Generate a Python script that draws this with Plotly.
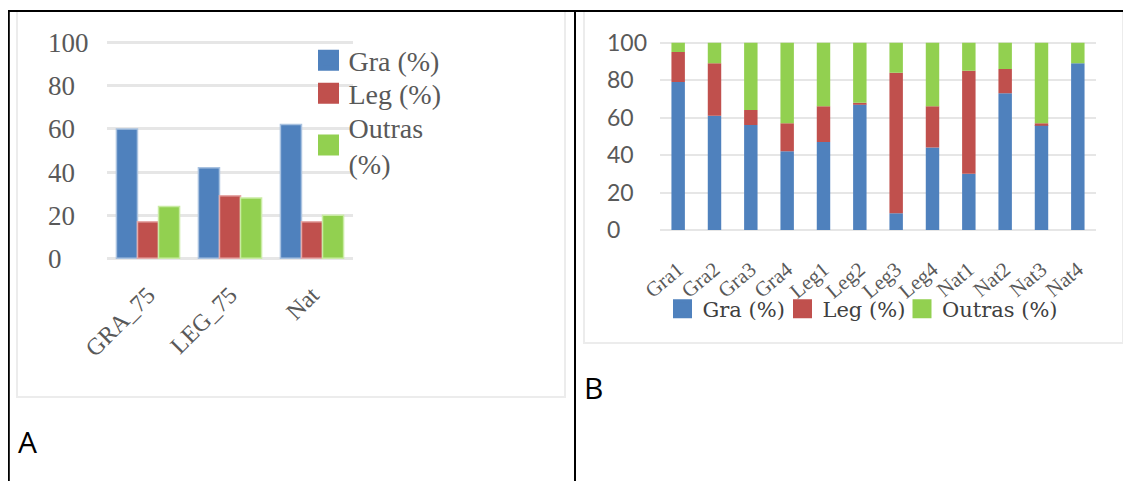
import plotly.graph_objects as go
import numpy as np

# page has an 8px body margin: the figure is drawn from (8, 8)
OX, OY = 8, 8
FW, FH = 1123, 473

# ---------------- data ----------------
cats_a = ["GRA_75", "LEG_75", "Nat"]
gra_a = [60, 42, 62]
leg_a = [17, 29, 17]
out_a = [24, 28, 20]

cats_b = ["Gra1", "Gra2", "Gra3", "Gra4", "Leg1", "Leg2", "Leg3", "Leg4",
          "Nat1", "Nat2", "Nat3", "Nat4"]
gra_b = [79, 61, 56, 42, 47, 67, 9, 44, 30, 73, 56, 89]
leg_b = [16, 28, 8, 15, 19, 1, 75, 22, 55, 13, 1, 0]
out_b = [5, 11, 36, 43, 34, 32, 16, 34, 15, 14, 43, 11]

series_names = ["Gra (%)", "Leg (%)", "Outras (%)"]
legend_a_names = ["Gra (%)", "Leg (%)", "Outras<br>(%)"]
yticks = [0, 20, 40, 60, 80, 100]

colors = ["#4F81BD", "#C0504D", "#92D050"]
edge_a = ["#a9c2e0", "#e6aaa9", "#c9eba3"]

SERIF = "Liberation Serif"
SANS = "Lato"
GREY = "#595959"


def px(x):
    return (x - OX) / FW


def py(y):
    return 1 - (y - OY) / FH


fig = go.Figure()

# legend ids / placements (screen px of symbol centre)
legA = ["legend", "legend2", "legend3"]
legA_pos = [(328.5, 60.5), (328.5, 93.5), (328.5, 145)]
legB = ["legend4", "legend5", "legend6"]
legB_pos = [(682.5, 309), (802.5, 309), (922, 309)]

# ---------------- panel A (grouped) ----------------
for vals, name, c, e in zip([gra_a, leg_a, out_a], series_names, colors, edge_a):
    fig.add_trace(go.Bar(x=cats_a, y=vals, name=name, marker=dict(color=c, line=dict(color=e, width=1.5)),
                         xaxis="x", yaxis="y", showlegend=False))
for name, c, lg in zip(legend_a_names, colors, legA):
    fig.add_trace(go.Scatter(x=[cats_a[0]], y=[None], mode="markers", name=name,
                             marker=dict(symbol="square", size=16, color=c, line=dict(color=c, width=5)),
                             xaxis="x", yaxis="y", legend=lg))

# ---------------- panel B (stacked) ----------------
gb = np.array(gra_b)
lb = np.array(leg_b)
ob = np.array(out_b)
bases = [np.zeros_like(gb), gb, gb + lb]
for vals, base, name, c in zip([gb, lb, ob], bases, series_names, colors):
    fig.add_trace(go.Bar(x=cats_b, y=vals, base=base, name=name, width=0.37, offset=-0.185,
                         marker=dict(color=c, line=dict(width=0)),
                         xaxis="x2", yaxis="y2", showlegend=False))
for name, c, lg in zip(series_names, colors, legB):
    fig.add_trace(go.Scatter(x=[cats_b[0]], y=[None], mode="markers", name=name,
                             marker=dict(symbol="square", size=16, color=c, line=dict(color=c, width=3)),
                             xaxis="x2", yaxis="y2", legend=lg))

grid_col = "#e6e6e6"

layout = dict(
    width=FW, height=FH,
    margin=dict(l=0, r=0, t=0, b=0, autoexpand=False),
    paper_bgcolor="white", plot_bgcolor="white",
    barmode="group", bargap=0.23, bargroupgap=0,
    xaxis=dict(domain=[px(107), px(353)], anchor="y", type="category",
               range=[-0.5, len(cats_a) - 0.5],
               tickangle=-45, tickfont=dict(family=SERIF, size=24, color=GREY),
               ticks="outside", ticklen=10, tickcolor="rgba(0,0,0,0)",
               showgrid=False, showline=False, zeroline=False),
    yaxis=dict(domain=[py(260.5), py(40.5)], range=[-1, 101], anchor="free", position=px(44),
               tickvals=yticks, ticklabelposition="inside", ticklabeloverflow="allow",
               tickfont=dict(family=SERIF, size=27, color=GREY), ticks="",
               showgrid=True, gridcolor=grid_col, gridwidth=3, zeroline=False, showline=False),
    xaxis2=dict(domain=[px(660), px(1096)], anchor="y2", type="category",
                range=[-0.5, len(cats_b) - 0.5],
                tickangle=-40, tickfont=dict(family=SERIF, size=21, color=GREY),
                ticks="outside", ticklen=16, tickcolor="rgba(0,0,0,0)",
                showgrid=False, showline=False, zeroline=False),
    yaxis2=dict(domain=[py(231.9), py(40.8)], range=[-1, 101], anchor="free", position=px(603),
                tickvals=yticks, ticklabelposition="inside", ticklabeloverflow="allow",
                tickfont=dict(family=SANS, size=23, color=GREY), ticks="",
                showgrid=True, gridcolor=grid_col, gridwidth=2, zeroline=False, showline=False),
    showlegend=True,
)
for lg, (cx, cy) in zip(legA, legA_pos):
    layout[lg] = dict(x=px(cx - 20), y=py(cy), xanchor="left", yanchor="middle", orientation="v",
                      font=dict(family=SERIF, size=28, color=GREY), bgcolor="rgba(0,0,0,0)",
                      itemsizing="trace")
for lg, (cx, cy) in zip(legB, legB_pos):
    layout[lg] = dict(x=px(cx - 20), y=py(cy), xanchor="left", yanchor="middle", orientation="h",
                      font=dict(family="DejaVu Serif", size=21, color="#404040"), bgcolor="rgba(0,0,0,0)",
                      itemsizing="trace")
fig.update_layout(**layout)

shapes = [
    # panel frames
    dict(type="rect", xref="paper", yref="paper", x0=px(17), x1=px(565), y0=py(397), y1=py(11),
         line=dict(color="#ececec", width=2), layer="below"),
    dict(type="rect", xref="paper", yref="paper", x0=px(584), x1=px(1123), y0=py(343), y1=py(11),
         line=dict(color="#ececec", width=2), layer="below"),
    # table borders
    dict(type="line", xref="paper", yref="paper", x0=px(7), x1=1, y0=py(11), y1=py(11),
         line=dict(color="black", width=2)),
    dict(type="line", xref="paper", yref="paper", x0=px(8.8), x1=px(8.8), y0=py(11), y1=0,
         line=dict(color="black", width=2)),
    dict(type="line", xref="paper", yref="paper", x0=px(575), x1=px(575), y0=py(11), y1=0,
         line=dict(color="black", width=2)),
]
fig.update_layout(shapes=shapes)

fig.update_layout(annotations=[
    dict(text="A", xref="paper", yref="paper", x=px(16), y=py(441), xanchor="left", yanchor="middle",
         showarrow=False, font=dict(family="Open Sans", size=30, color="black")),
    dict(text="B", xref="paper", yref="paper", x=px(582), y=py(387), xanchor="left", yanchor="middle",
         showarrow=False, font=dict(family="Open Sans", size=30, color="black")),
])

fig.write_html("out.html")
